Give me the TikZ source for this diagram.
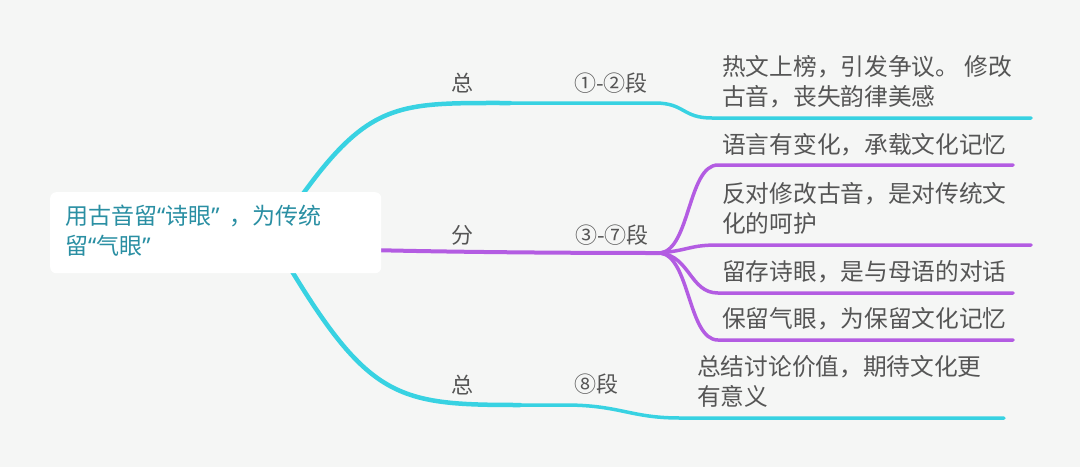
\documentclass[tikz,border=0pt]{standalone}
\usepackage{fontspec}
\setmainfont{Noto Sans CJK SC}
\newfontfamily\latinq{Noto Sans}
\definecolor{bg}{HTML}{F5F6F5}
\definecolor{cyanl}{HTML}{38D2E2}
\definecolor{purp}{HTML}{B35CE2}
\definecolor{txt}{HTML}{555555}
\definecolor{roottxt}{HTML}{2A8FA3}
\newcommand{\myoq}{{\latinq “}}
\newcommand{\mycq}{{\latinq ”}}
\begin{document}
\begin{tikzpicture}[x=1pt,y=-1pt,
  lbl/.style={text=txt,font=\fontsize{22}{28}\selectfont,inner sep=0pt,anchor=west},
  leaf/.style={text=txt,font=\fontsize{23.7}{30}\selectfont,inner sep=0pt,anchor=north west,align=left},
  cyanline/.style={draw=cyanl,line width=3.5pt,line cap=round},
  purpline/.style={draw=purp,line width=3.5pt,line cap=round}]
\useasboundingbox[fill=bg] (0,0) rectangle (1080,467);
% coordinates
\coordinate (t0) at (300,198);
\coordinate (t1) at (510,103);
\coordinate (t2) at (655,103);
\coordinate (t3) at (712,118);
\coordinate (t4) at (1031,118);
\coordinate (p0) at (370,250);
\coordinate (p1) at (660,253);
\coordinate (pa) at (718,165);
\coordinate (pae) at (1013,165);
\coordinate (pb) at (718,245);
\coordinate (pbe) at (1031,245);
\coordinate (pc) at (718,293);
\coordinate (pce) at (1013,293);
\coordinate (pd) at (718,340);
\coordinate (pde) at (1013,340);
\coordinate (b0) at (290,268);
\coordinate (b1) at (520,405);
\coordinate (b2) at (565,405);
\coordinate (b3) at (680,418);
\coordinate (b4) at (1004,418);
% top branch
\draw[cyanline,line width=4.5pt] (t0) .. controls (370,100) and (400,103) .. (t1);
\draw[cyanline] (t1) -- (t2) .. controls (685,103) and (682,118) .. (t3) -- (t4);
% middle branch
\draw[purpline,line width=4pt] (p0) .. controls (450,252) and (560,253) .. (p1);
\draw[purpline] (p1) .. controls (690,250) and (688,165) .. (pa) -- (pae);
\draw[purpline] (p1) .. controls (690,250) and (690,245) .. (pb) -- (pbe);
\draw[purpline] (p1) .. controls (690,256) and (690,293) .. (pc) -- (pce);
\draw[purpline] (p1) .. controls (690,256) and (688,340) .. (pd) -- (pde);
% bottom branch
\draw[cyanline,line width=4.5pt] (b0) .. controls (370,400) and (400,405) .. (b1);
\draw[cyanline] (b1) -- (b2) .. controls (620,405) and (630,418) .. (b3) -- (b4);
% root
\node[fill=white,rounded corners=6pt,minimum width=331pt,minimum height=81pt,anchor=north west,inner sep=0pt] (rootbox) at (50,192) {};
\node[text=roottxt,font=\fontsize{23}{30}\selectfont,anchor=north west,inner sep=0pt,align=left] (root) at (65,205) {用古音留\myoq 诗眼\mycq\hspace{10pt}，为传统\\留\myoq 气眼\mycq};
% labels
\node[lbl] (z1) at (451,83) {总};
\node[lbl] (s1) at (574,83) {①-②段};
\node[lbl] (f) at (451,235) {分};
\node[lbl] (s2) at (575,235) {③-⑦段};
\node[lbl] (z2) at (451,385) {总};
\node[lbl] (s3) at (574,384) {⑧段};
% leaves
\node[leaf] (l1) at (722,55) {热文上榜，引发争议。 修改\\古音，丧失韵律美感};
\node[leaf] (l2) at (722,133) {语言有变化，承载文化记忆};
\node[leaf] (l3) at (722,182) {反对修改古音，是对传统文\\化的呵护};
\node[leaf] (l4) at (722,260) {留存诗眼，是与母语的对话};
\node[leaf] (l5) at (722,307) {保留气眼，为保留文化记忆};
\node[leaf] (l6) at (697,355) {总结讨论价值，期待文化更\\有意义};
\end{tikzpicture}
\end{document}
